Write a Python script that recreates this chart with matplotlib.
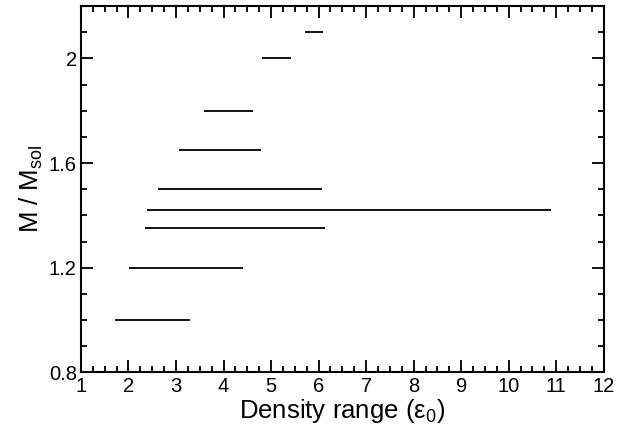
import matplotlib
matplotlib.use("Agg")
import matplotlib.pyplot as plt
from matplotlib.ticker import MultipleLocator

plt.rcParams['font.family'] = ['Liberation Sans', 'DejaVu Sans']
plt.rcParams['mathtext.fontset'] = 'custom'
plt.rcParams['mathtext.rm'] = 'Liberation Sans'
plt.rcParams['mathtext.it'] = 'Liberation Sans:italic'
plt.rcParams['mathtext.bf'] = 'Liberation Sans:bold'

masses = [1.0, 1.2, 1.35, 1.42, 1.5, 1.65, 1.8, 2.0, 2.1]
range_start = [1.72, 2.01, 2.34, 2.40, 2.62, 3.07, 3.58, 4.81, 5.72]
range_end = [3.29, 4.40, 6.14, 10.88, 6.08, 4.78, 4.62, 5.42, 6.10]

fig = plt.figure(figsize=(6.18, 4.29), dpi=100)
ax = fig.add_axes([0.131, 0.132, 0.846, 0.854])

ax.hlines(masses, range_start, range_end, colors='black', linewidth=1.3)

ax.set_xlim(1, 12)
ax.set_ylim(0.8, 2.2)
ax.xaxis.set_major_locator(MultipleLocator(1))
ax.xaxis.set_minor_locator(MultipleLocator(0.25))
ax.yaxis.set_major_locator(MultipleLocator(0.4))
ax.yaxis.set_minor_locator(MultipleLocator(0.1))

def fmt(v, pos):
    s = f"{v:.1f}"
    if s.endswith('.0'):
        s = s[:-2]
    return s
ax.yaxis.set_major_formatter(plt.FuncFormatter(fmt))
ax.xaxis.set_major_formatter(plt.FuncFormatter(lambda v, p: f"{int(round(v))}"))

ax.tick_params(which='both', direction='in', top=True, right=True, labelsize=14.5, width=1.3)
ax.tick_params(which='major', length=8.5, pad=3)
ax.tick_params(which='minor', length=4.3)
for sp in ax.spines.values():
    sp.set_linewidth(1.5)

ax.set_xlabel('Density range (ε$_0$)', fontsize=18.5, labelpad=1)
ax.set_ylabel('M / M$_\\mathrm{sol}$', fontsize=18.5, labelpad=3)

fig.savefig('out.png', dpi=100)
